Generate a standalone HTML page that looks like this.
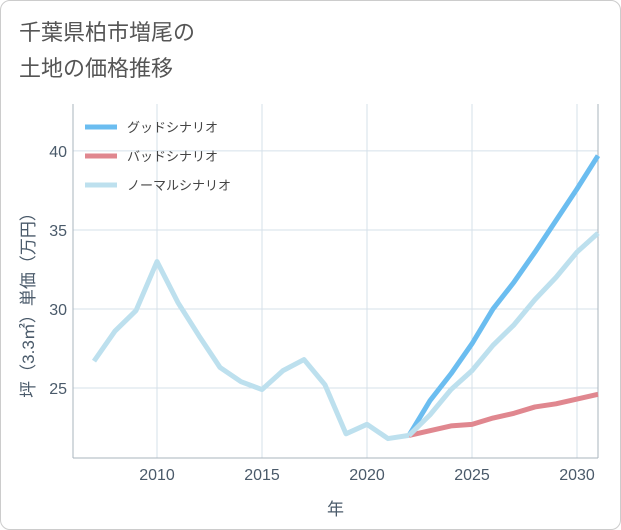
<!DOCTYPE html>
<html><head><meta charset="utf-8"><style>
body{margin:0;background:#fff;}
#wrap{position:relative;width:619px;height:528px;border:1px solid #ccc;border-radius:10px;overflow:hidden;background:#fff;font-family:"Liberation Sans","Noto Sans CJK JP",sans-serif;}
#title{position:absolute;left:18px;top:14px;font-size:22px;line-height:36px;color:#555;}
svg{position:absolute;left:0;top:0;}
</style></head><body>
<div id="wrap">
<div id="title">千葉県柏市増尾の<br>土地の価格推移</div>
<svg id="chart" width="621" height="530"></svg>
</div>
<script>
const histYears=[2007,2008,2009,2010,2011,2012,2013,2014,2015,2016,2017,2018,2019,2020,2021,2022];
const histValues=[26.7,28.6,29.9,33.0,30.4,28.3,26.3,25.4,24.9,26.1,26.8,25.2,22.1,22.7,21.8,22.0];
const projYears=[2022,2023,2024,2025,2026,2027,2028,2029,2030,2031];
const goodValues=[22.0,24.2,25.9,27.8,30.0,31.7,33.6,35.6,37.6,39.7];
const badValues=[22.0,22.3,22.6,22.7,23.1,23.4,23.8,24.0,24.3,24.6];
const normalValues=[22.0,23.3,24.9,26.1,27.7,29.0,30.6,32.0,33.6,34.8];
const xTicks=[2010,2015,2020,2025,2030];
const yTicks=[25,30,35,40];
const legendLabels=["グッドシナリオ","バッドシナリオ","ノーマルシナリオ"];

const L=72,R=597,T=103,B=457,x0=2006,x1=2031,y0=20.57,y1=42.97;
const X=v=>L+(v-x0)/(x1-x0)*(R-L);
const Y=v=>B-(v-y0)/(y1-y0)*(B-T);
const svg=document.getElementById('chart');
const NS='http://www.w3.org/2000/svg';
function mk(tag,attrs){const e=document.createElementNS(NS,tag);for(const k in attrs)e.setAttribute(k,attrs[k]);svg.appendChild(e);return e;}

xTicks.forEach(t=>{
 const g=mk('line',{x1:X(t),x2:X(t),y1:T,y2:B,stroke:'#d5e0ea','stroke-width':1});
 
 
 const tx=mk('text',{x:X(t),y:B+22,'text-anchor':'middle','font-size':16,fill:'#4a5a6a'});
 tx.textContent=t;
 
 
});
yTicks.forEach(t=>{
 const g=mk('line',{x1:L,x2:R,y1:Y(t),y2:Y(t),stroke:'#d5e0ea','stroke-width':1});
 
 
 const tx=mk('text',{x:L-6,y:Y(t)+6,'text-anchor':'end','font-size':16,fill:'#4a5a6a'});
 tx.textContent=t;
 
 
});
const ax=mk('line',{x1:L,x2:L,y1:T,y2:B,stroke:'#aab4be','stroke-width':1});


const ax2=mk('line',{x1:L,x2:R,y1:B,y2:B,stroke:'#aab4be','stroke-width':1});


const ax3=mk('line',{x1:R,x2:R,y1:T,y2:B,stroke:'#aab4be','stroke-width':1});



function line(xs,ys,color,name){
 const p=mk('polyline',{points:xs.map((x,i)=>X(x)+','+Y(ys[i])).join(' '),fill:'none',stroke:color,'stroke-width':5,'stroke-linejoin':'round'});
 
 
}
line(projYears,badValues,'#e0878f','bad-scenario-line');
line(projYears,goodValues,'#6bbdf0','good-scenario-line');
line(projYears,normalValues,'#bde0ee','normal-scenario-line');
line(histYears,histValues,'#bde0ee','history-line');

const cols=['#6bbdf0','#e0878f','#bde0ee'];
legendLabels.forEach((s,i)=>{
 const y=126+i*29;
 const l=mk('line',{x1:84,x2:116,y1:y,y2:y,stroke:cols[i],'stroke-width':5});
 
 
 const t=mk('text',{x:126,y:y+5,'font-size':13,fill:'#444'});
 t.textContent=s;
 
 
});
const xt=mk('text',{x:(L+R)/2,y:514,'text-anchor':'middle','font-size':17,fill:'#4a5a6a'});
xt.textContent='年';


const yt=mk('text',{x:0,y:0,'text-anchor':'middle','font-size':17,fill:'#4a5a6a',transform:'translate(33,'+((T+B)/2+20)+') rotate(-90)'});
yt.textContent='坪（3.3㎡）単価（万円）';


</script>
</body></html>
